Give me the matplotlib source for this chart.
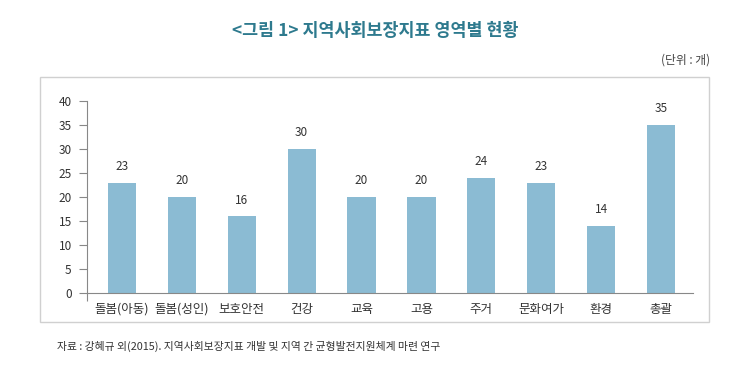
import matplotlib
matplotlib.use("Agg")
import matplotlib.pyplot as plt
from matplotlib.patches import Rectangle

plt.rcParams['font.family'] = ['Noto Sans CJK KR', 'DejaVu Sans']

categories = ['돌봄(아동)', '돌봄(성인)', '보호안전', '건강', '교육', '고용', '주거', '문화여가', '환경', '총괄']
values = [23, 20, 16, 30, 20, 20, 24, 23, 14, 35]
yticks = [0, 5, 10, 15, 20, 25, 30, 35, 40]

title = '<그림 1> 지역사회보장지표 영역별 현황'
unit = '(단위 : 개)'
source = '자료 : 강혜규 외(2015). 지역사회보장지표 개발 및 지역 간 균형발전지원체계 마련 연구'

W, H = 750, 369
fig = plt.figure(figsize=(W / 100, H / 100), dpi=100)

# outer box
fig.patches.append(Rectangle((40 / W, 1 - 322 / H), (709 - 40) / W, (322 - 77) / H,
                             transform=fig.transFigure, fill=False,
                             edgecolor='#d0d0d0', linewidth=1))

ax = fig.add_axes([87 / W, 1 - 293 / H, (693 - 87) / W, (293 - 101) / H])
x = range(len(categories))
ax.bar(x, values, width=0.47, color='#8bbbd3', edgecolor='none')
for xi, v in zip(x, values):
    ax.text(xi, v + 2.0, str(v), ha='center', va='bottom', fontsize=8.5, color='#333333')

ax.set_xlim(-0.584, 9.534)
ax.set_ylim(0, 40)
ax.set_yticks(yticks)
ax.set_yticklabels([str(t) for t in yticks], fontsize=8.5, color='#333333')
ax.set_xticks(list(x))
ax.set_xticklabels(categories, fontsize=9, color='#333333')
ax.tick_params(axis='x', length=0, pad=7)
ax.tick_params(axis='y', length=6, color='#888888', width=0.8, pad=5)
ax.set_xticks([-0.584], minor=True)
ax.tick_params(axis='x', which='minor', length=6, color='#888888', width=0.8)
for s in ['top', 'right']:
    ax.spines[s].set_visible(False)
for s in ['left', 'bottom']:
    ax.spines[s].set_color('#888888')
    ax.spines[s].set_linewidth(0.8)

fig.text(375 / W, 1 - 31 / H, title, ha='center', va='center', fontsize=12.5,
         fontweight='bold', color='#2e7a8e')
fig.text(710 / W, 1 - 60 / H, unit, ha='right', va='center', fontsize=8.5, color='#444444')
fig.text(57 / W, 1 - 346 / H, source, ha='left', va='center', fontsize=7.8, color='#333333')

fig.savefig('out.png', dpi=100)
